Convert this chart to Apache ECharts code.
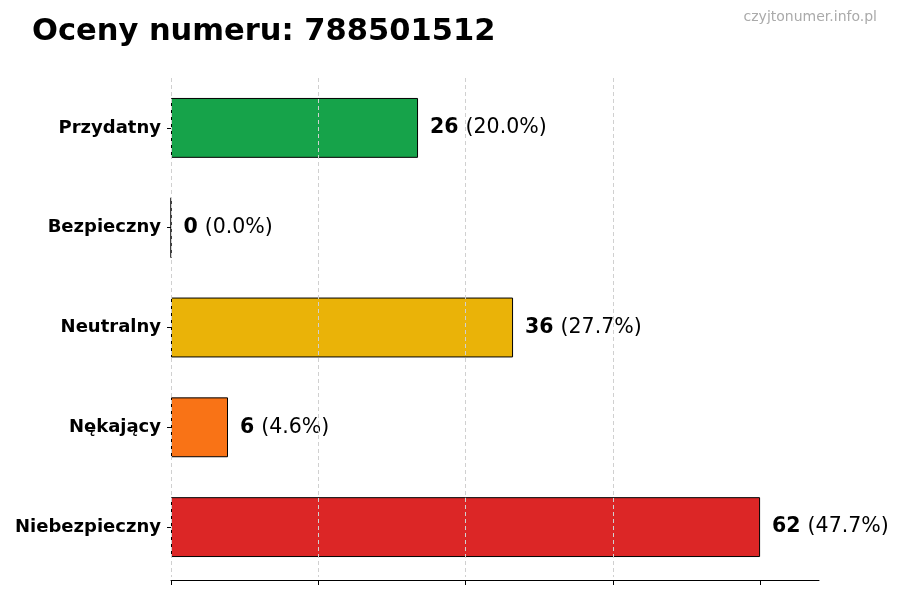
<!DOCTYPE html>
<html><head><meta charset="utf-8">
<script src="https://cdn.jsdelivr.net/npm/echarts@6/dist/echarts.min.js"></script>
<style>html,body{margin:0;padding:0;background:#fff}#c{width:900px;height:600px}</style>
</head><body><div id="c"></div>
<script>
const categories = ["Przydatny", "Bezpieczny", "Neutralny", "Nękający", "Niebezpieczny"];
const values = [26, 0, 36, 6, 62];
const percents = ["20.0", "0.0", "27.7", "4.6", "47.7"];
const colors = ["#16a34a", "#6b7280", "#eab308", "#f97316", "#dc2626"];
const titleText = "Oceny numeru: 788501512";
const watermark = "czyjtonumer.info.pl";

const maxV = Math.max(...values);
const tickVals = [0, 1, 2, 3, 4].map(k => k * maxV / 4);
const chart = echarts.init(document.getElementById('c'));
chart.setOption({
  animation: false,
  backgroundColor: '#fff',
  title: {
    text: titleText, left: 27, top: 12,
    textStyle: { fontFamily: 'DejaVu Sans', fontWeight: 'bold', fontSize: 30.5, color: '#000' }
  },
  graphic: [{
    type: 'text', right: 23, top: 10,
    style: { text: watermark, fill: '#aaaaaa', font: '14px "DejaVu Sans"' }
  }],
  grid: { left: 171, right: 81, top: 78, height: 499 },
  xAxis: {
    type: 'value', min: 0, max: maxV * 1.1, interval: maxV / 4,
    z: 5, offset: 3,
    axisLine: { show: true, lineStyle: { color: '#000', width: 1 } },
    axisTick: { show: true, length: 5, customValues: tickVals, lineStyle: { color: '#000' } },
    axisLabel: { show: false },
    splitLine: { show: true, showMaxLine: false, lineStyle: { color: '#d0d0d0', type: [4, 3], width: 1 } }
  },
  yAxis: {
    type: 'category', data: categories, inverse: true,
    axisLine: { show: false },
    axisTick: { show: true, alignWithLabel: true, length: 4, lineStyle: { color: '#000' } },
    axisLabel: { fontFamily: 'DejaVu Sans', fontWeight: 'bold', fontSize: 18, color: '#000', margin: 10 }
  },
  series: [{
    type: 'bar',
    barWidth: '60%',
    data: values.map((v, i) => ({ value: v, itemStyle: { color: colors[i] } })),
    itemStyle: { borderColor: '#000', borderWidth: 1 },
    label: {
      show: true, position: 'right', distance: 12,
      formatter: p => '{b|' + values[p.dataIndex] + '}{n|(' + percents[p.dataIndex] + '%)}',
      rich: {
        b: { fontFamily: 'DejaVu Sans', fontWeight: 'bold', fontSize: 20.5, color: '#000' },
        n: { fontFamily: 'DejaVu Sans', fontSize: 20.5, color: '#000', padding: [0, 0, 0, 7] }
      }
    }
  }]
});
</script></body></html>
